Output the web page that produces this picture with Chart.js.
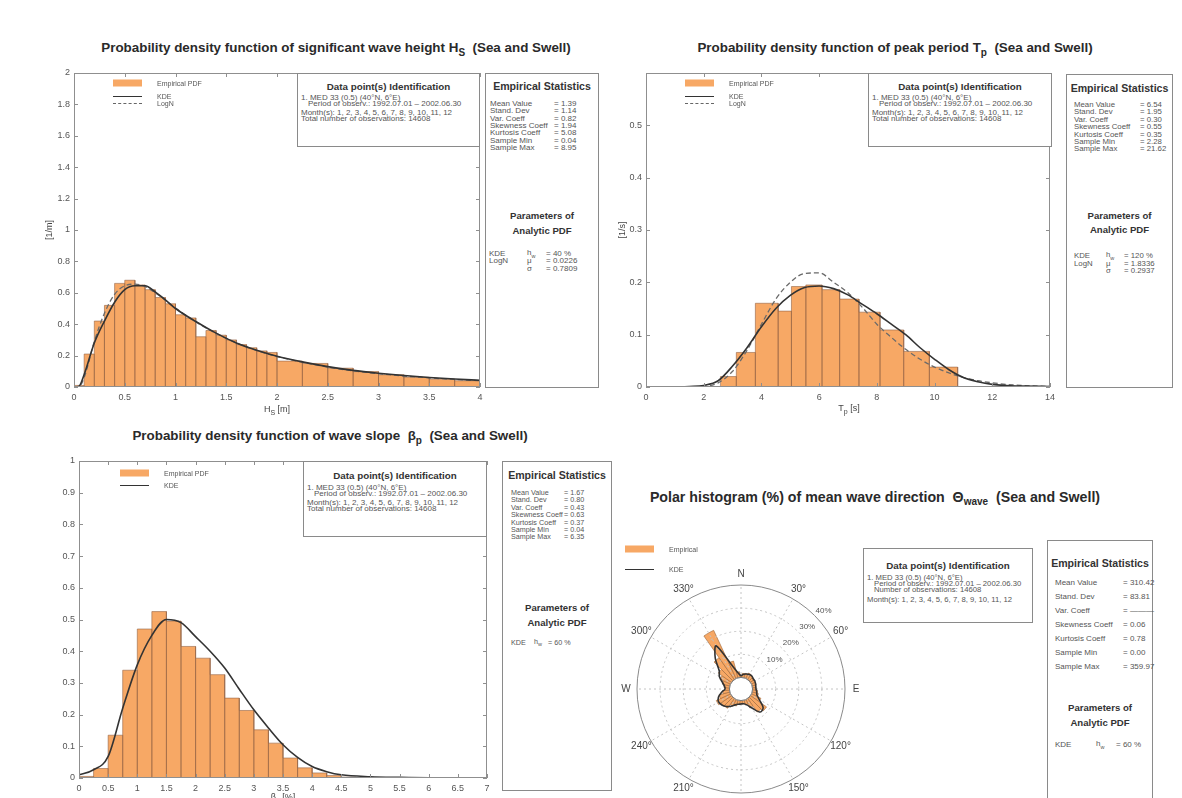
<!DOCTYPE html>
<html>
<head>
<meta charset="utf-8">
<script src="https://cdn.jsdelivr.net/npm/chart.js@4.4.1/dist/chart.umd.min.js"></script>
<style>
  body { margin: 0; width: 1182px; height: 798px; overflow: hidden; background: #fff; position: relative;
         font-family: "Liberation Sans", Arial, Helvetica, sans-serif; color: #333; }
  .cw { position: absolute; }
  .title { position: absolute; transform: translate(-50%, -50%); font-weight: bold; font-size: 13.4px; white-space: nowrap; color: #2a2a2a; }
  .title sub { font-size: 10px; }
  .xt { position: absolute; transform: translate(-50%, -50%); font-size: 9px; color: #444; white-space: nowrap; }
  .xt sub { font-size: 7px; }
  .box { position: absolute; box-sizing: border-box; border: 1px solid #8a8a8a; background: #fff; }
  .hd, .hd2, .hd3 { position: absolute; left: 0; right: 0; text-align: center; transform: translateY(-50%); font-weight: bold; color: #333; white-space: nowrap; }
  .hd { font-size: 9.8px; }
  .hd2 { font-size: 10.6px; }
  .hd3 { font-size: 9.6px; line-height: 1; }
  .ln { position: absolute; transform: translateY(-50%); line-height: 1; color: #555; white-space: nowrap; }
  .ln sub { font-size: 5.5px; }
  .lg { position: absolute; transform: translateY(-50%); font-size: 7px; line-height: 1; color: #555; white-space: nowrap; }
  .sw { position: absolute; background: #f7a865; transform: translateY(-50%); }
  .kl { position: absolute; border-top: 1.5px solid #333; width: 29px; }
  .dl { position: absolute; border-top: 1.2px dashed #666; width: 29px; }
</style>
</head>
<body>
<div class="cw" style="left:44px;top:63px;width:444px;height:355px"><canvas id="hsChart"></canvas></div>
<div class="cw" style="left:617px;top:63px;width:443px;height:355px"><canvas id="tpChart"></canvas></div>
<div class="cw" style="left:40px;top:451px;width:455px;height:358px"><canvas id="slopeChart"></canvas></div>
<div class="cw" style="left:597px;top:545px;width:288px;height:288px"><canvas id="dirHist"></canvas></div>
<div class="cw" style="left:597px;top:545px;width:288px;height:288px"><canvas id="dirKde"></canvas></div>

<div class="title" style="left:336px;top:49px">Probability density function of significant wave height H<sub>S</sub> &nbsp;(Sea and Swell)</div>
<div class="title" style="left:895px;top:49px">Probability density function of peak period T<sub>p</sub> &nbsp;(Sea and Swell)</div>
<div class="title" style="left:330px;top:437px">Probability density function of wave slope &nbsp;β<sub>p</sub> &nbsp;(Sea and Swell)</div>
<div class="title" style="left:875px;top:498px;font-size:14.2px">Polar histogram (%) of mean wave direction &nbsp;Θ<sub>wave</sub> &nbsp;(Sea and Swell)</div>

<div class="xt" style="left:277px;top:410px">H<sub>S</sub> [m]</div>
<div class="xt" style="left:849px;top:409px">T<sub>p</sub> [s]</div>
<div class="xt" style="left:283px;top:798px">β<sub>p</sub> [%]</div>

<script>
// ---- significant wave height Hs
const hsEdges = [0, 0.1, 0.2, 0.3, 0.4, 0.5, 0.6, 0.7, 0.8, 0.9, 1.0, 1.1, 1.2, 1.3, 1.4, 1.5, 1.6, 1.7, 1.8, 1.9, 2.0,
                 2.25, 2.5, 2.75, 3.0, 3.25, 3.5, 3.75, 4.0];
const hsEmpirical = [0.01, 0.21, 0.42, 0.52, 0.66, 0.68, 0.65, 0.62, 0.57, 0.53, 0.46, 0.44, 0.32, 0.36, 0.33, 0.30, 0.27, 0.25, 0.23, 0.22,
                     0.165, 0.15, 0.12, 0.098, 0.078, 0.062, 0.05, 0.04];
const hsCurveX = [0, 0.05, 0.1, 0.2, 0.3, 0.4, 0.5, 0.6, 0.7, 0.8, 0.9, 1.0, 1.2, 1.4, 1.6, 1.8, 2.0, 2.25, 2.5, 2.75, 3.0, 3.25, 3.5, 3.75, 4.0];
const hsKde  = [0, 0.005, 0.08, 0.28, 0.42, 0.54, 0.62, 0.645, 0.645, 0.605, 0.555, 0.5, 0.417, 0.343, 0.28, 0.234, 0.196, 0.16, 0.13, 0.106, 0.088, 0.073, 0.061, 0.051, 0.043];
const hsLogN = [0, 0.002, 0.06, 0.29, 0.47, 0.59, 0.645, 0.655, 0.64, 0.6, 0.553, 0.503, 0.415, 0.342, 0.282, 0.233, 0.194, 0.158, 0.127, 0.103, 0.085, 0.07, 0.058, 0.048, 0.04];

// ---- peak period Tp
const tpEdges = [2.58, 3.13, 3.79, 4.58, 5.04, 5.54, 6.10, 6.71, 7.38, 8.11, 8.93, 9.82, 10.80];
const tpEmpirical = [0.02, 0.066, 0.16, 0.145, 0.192, 0.195, 0.186, 0.168, 0.143, 0.109, 0.068, 0.038];
const tpCurveX = [0, 1, 1.5, 2, 2.5, 3, 3.5, 4, 4.5, 5, 5.5, 6, 6.5, 7, 7.5, 8, 8.5, 9, 9.5, 10, 10.5, 11, 11.5, 12, 12.5, 13, 14];
const tpKde  = [0, 0, 0.001, 0.003, 0.012, 0.04, 0.075, 0.115, 0.15, 0.175, 0.19, 0.193, 0.188, 0.176, 0.158, 0.14, 0.12, 0.1, 0.075, 0.053, 0.033, 0.018, 0.01, 0.005, 0.003, 0.002, 0.001];
const tpLogN = [0, 0, 0, 0.001, 0.008, 0.03, 0.07, 0.12, 0.168, 0.2, 0.217, 0.218, 0.2, 0.18, 0.152, 0.12, 0.095, 0.072, 0.053, 0.038, 0.027, 0.018, 0.012, 0.008, 0.005, 0.003, 0.001];

// ---- wave slope
const slopeEdges = [0, 0.25, 0.5, 0.75, 1.0, 1.25, 1.5, 1.75, 2.0, 2.25, 2.5, 2.75, 3.0, 3.25, 3.5, 3.75, 4.0, 4.25, 4.5, 4.75];
const slopeEmpirical = [0.005, 0.03, 0.135, 0.34, 0.47, 0.525, 0.495, 0.415, 0.378, 0.326, 0.252, 0.213, 0.152, 0.11, 0.063, 0.032, 0.016, 0.008, 0.003];
const slopeCurveX = [0, 0.25, 0.5, 0.75, 1, 1.25, 1.5, 1.75, 2, 2.25, 2.5, 2.75, 3, 3.25, 3.5, 3.75, 4, 4.25, 4.5, 5, 5.5, 6, 6.5, 7];
const slopeKde = [0.01, 0.026, 0.068, 0.22, 0.357, 0.45, 0.5, 0.49, 0.446, 0.4, 0.347, 0.28, 0.215, 0.158, 0.105, 0.065, 0.036, 0.02, 0.01, 0.004, 0.002, 0.001, 0.001, 0.001];

// ---- mean wave direction (10 degree bins, %)
const dirBins = [0, 10, 20, 30, 40, 50, 60, 70, 80, 90, 100, 110, 120, 130, 140, 150, 160, 170,
                 180, 190, 200, 210, 220, 230, 240, 250, 260, 270, 280, 290, 300, 310, 320, 330, 340, 350];
const dirEmpirical = [1.0, 1.8, 2.0, 2.6, 2.2, 2.0, 1.6, 1.8, 1.4, 1.5, 2.2, 2.8, 4.5, 8.5, 7.2, 4.0, 2.2, 1.5,
                      1.4, 1.8, 2.6, 3.2, 5.2, 5.5, 6.8, 4.8, 3.0, 2.0, 2.4, 3.4, 5.0, 7.0, 11.5, 23.0, 7.5, 2.5];
const dirKde = [0.8, 1.5, 1.9, 2.3, 2.3, 1.9, 1.9, 1.7, 1.5, 1.5, 1.9, 2.3, 4.1, 7.5, 8.0, 4.5, 2.3, 1.5,
                1.5, 1.7, 2.3, 3.6, 4.9, 5.8, 6.2, 5.4, 3.6, 1.9, 2.3, 3.6, 5.8, 7.3, 12.3, 16.6, 5.5, 2.0];
const dirRings = [10, 20, 30, 40];
const dirAngleLabels = ['N', '30°', '60°', 'E', '120°', '150°', 'S', '210°', '240°', 'W', '300°', '330°'];

// ---- text of the info boxes
const idLines = ['1. MED 33 (0.5)  (40°N, 6°E)', 'Period of observ.: 1992.07.01 – 2002.06.30',
                 'Month(s): 1, 2, 3, 4, 5, 6, 7, 8, 9, 10, 11, 12', 'Total number of observations: 14608'];
const idLinesDir = ['1. MED 33 (0.5)  (40°N, 6°E)', 'Period of observ.: 1992.07.01 – 2002.06.30',
                    'Number of observations: 14608', 'Month(s): 1, 2, 3, 4, 5, 6, 7, 8, 9, 10, 11, 12'];
const statLabels = ['Mean Value', 'Stand. Dev', 'Var. Coeff', 'Skewness Coeff', 'Kurtosis Coeff', 'Sample Min', 'Sample Max'];
const hsStats = ['1.39', '1.14', '0.82', '1.94', '5.08', '0.04', '8.95'];
const tpStats = ['6.54', '1.95', '0.30', '0.55', '0.35', '2.28', '21.62'];
const slopeStats = ['1.67', '0.80', '0.43', '0.63', '0.37', '0.04', '6.35'];
const dirStats = ['310.42', '83.81', '———', '0.06', '0.78', '0.00', '359.97'];
const hsParams = [['KDE', 'h<sub>w</sub>', '40 %'], ['LogN', 'μ', '0.0226'], ['', 'σ', '0.7809']];
const tpParams = [['KDE', 'h<sub>w</sub>', '120 %'], ['LogN', 'μ', '1.8336'], ['', 'σ', '0.2937']];
const slopeParams = [['KDE', 'h<sub>w</sub>', '60 %']];
const dirParams = [['KDE', 'h<sub>w</sub>', '60 %']];

const ORANGE = '#f7a865';
const BAR_EDGE = 'rgba(150, 100, 70, 0.75)';
Chart.defaults.font.family = '"Liberation Sans", Arial, Helvetica, sans-serif';

// outline of a histogram with varying bin widths, each bin closed down to zero
function histPoints(edges, vals) {
    const pts = [];
    vals.forEach((v, i) => {
        pts.push({x: edges[i], y: 0}, {x: edges[i], y: v}, {x: edges[i + 1], y: v}, {x: edges[i + 1], y: 0});
    });
    return pts;
}

function curve(xs, ys) {
    return xs.map((x, i) => ({x: x, y: ys[i]}));
}

function fmt(v) {
    return String(Math.round(v * 100) / 100);
}

// box around the plot area with small inward ticks (MATLAB look)
const framePlugin = {
    id: 'frame',
    afterDraw(chart) {
        const {ctx, chartArea: a, scales: {x, y}} = chart;
        ctx.save();
        ctx.strokeStyle = '#8f8f8f';
        ctx.lineWidth = 1;
        ctx.strokeRect(Math.round(a.left) + 0.5, Math.round(a.top) + 0.5, Math.round(a.width) - 1, Math.round(a.height) - 1);
        ctx.beginPath();
        x.ticks.forEach(t => {
            const px = Math.round(x.getPixelForValue(t.value)) + 0.5;
            ctx.moveTo(px, a.bottom); ctx.lineTo(px, a.bottom - 4);
            ctx.moveTo(px, a.top); ctx.lineTo(px, a.top + 4);
        });
        y.ticks.forEach(t => {
            const py = Math.round(y.getPixelForValue(t.value)) + 0.5;
            ctx.moveTo(a.left, py); ctx.lineTo(a.left + 4, py);
            ctx.moveTo(a.right, py); ctx.lineTo(a.right - 4, py);
        });
        ctx.stroke();
        ctx.restore();
    }
};

function pdfChart(id, o) {
    const datasets = [{
        data: histPoints(o.edges, o.emp),
        fill: 'origin', backgroundColor: ORANGE, borderColor: BAR_EDGE, borderWidth: 0.8,
        pointRadius: 0, tension: 0, order: 2
    }, {
        data: curve(o.cx, o.kde),
        borderColor: '#333', borderWidth: 1.6, pointRadius: 0, fill: false,
        cubicInterpolationMode: 'monotone', order: 0
    }];
    if (o.logn) {
        datasets.push({
            data: curve(o.cx, o.logn),
            borderColor: '#6a6a6a', borderWidth: 1.3, borderDash: [5, 3], pointRadius: 0, fill: false,
            cubicInterpolationMode: 'monotone', order: 1
        });
    }
    return new Chart(document.getElementById(id), {
        type: 'line',
        data: {datasets: datasets},
        options: {
            responsive: true,
            maintainAspectRatio: false,
            animation: false,
            events: [],
            layout: {padding: {top: 10, right: 8, left: 0, bottom: 0}},
            plugins: {legend: {display: false}, tooltip: {enabled: false}},
            scales: {
                x: {
                    type: 'linear', min: o.xmin, max: o.xmax,
                    ticks: {stepSize: o.xstep, color: '#555', font: {size: 9}, padding: 5, maxRotation: 0, autoSkip: false, callback: fmt},
                    grid: {display: false, drawTicks: false},
                    border: {display: false},
                    afterFit: s => { s.height = 31; }
                },
                y: {
                    type: 'linear', min: 0, max: o.ymax,
                    ticks: {stepSize: o.ystep, color: '#555', font: {size: 9}, padding: 4, autoSkip: false, callback: o.ycb || fmt},
                    grid: {display: false, drawTicks: false},
                    border: {display: false},
                    title: {display: !!o.ytitle, text: o.ytitle, color: '#444', font: {size: 9}, padding: {top: 0, bottom: 0}},
                    afterFit: s => { s.width = o.yw; }
                }
            }
        },
        plugins: [framePlugin]
    });
}

pdfChart('hsChart', {edges: hsEdges, emp: hsEmpirical, cx: hsCurveX, kde: hsKde, logn: hsLogN,
    xmin: 0, xmax: 4, xstep: 0.5, ymax: 2, ystep: 0.2, ytitle: '[1/m]', yw: 30});
pdfChart('tpChart', {edges: tpEdges, emp: tpEmpirical, cx: tpCurveX, kde: tpKde, logn: tpLogN,
    xmin: 0, xmax: 14, xstep: 2, ymax: 0.6, ystep: 0.1, ytitle: '[1/s]', yw: 29,
    ycb: v => (v > 0.55 ? '' : fmt(v))});
pdfChart('slopeChart', {edges: slopeEdges, emp: slopeEmpirical, cx: slopeCurveX, kde: slopeKde,
    xmin: 0, xmax: 7, xstep: 0.5, ymax: 1, ystep: 0.1, ytitle: '', yw: 39});

// ---- polar histogram: wedges (polarArea) under the KDE outline (radar)
const radialBase = {
    min: -5, max: 40,
    ticks: {display: false, stepSize: 10},
    pointLabels: {display: false}
};

new Chart(document.getElementById('dirHist'), {
    type: 'polarArea',
    data: {labels: dirBins, datasets: [{data: dirEmpirical, backgroundColor: ORANGE, borderColor: 'rgba(160, 105, 60, 0.9)', borderWidth: 0.7}]},
    options: {
        responsive: true, maintainAspectRatio: false, animation: false, events: [],
        layout: {padding: 40},
        plugins: {legend: {display: false}, tooltip: {enabled: false}},
        scales: {r: Object.assign({}, radialBase, {startAngle: -5, grid: {display: false}, angleLines: {display: false}})}
    }
});

const polarDecor = {
    id: 'polarDecor',
    afterDraw(chart) {
        const s = chart.scales.r, ctx = chart.ctx;
        const cx = s.xCenter, cy = s.yCenter;
        const r0 = s.getDistanceFromCenterForValue(0);
        ctx.save();
        ctx.fillStyle = '#fff';
        ctx.beginPath();
        ctx.arc(cx, cy, r0, 0, 2 * Math.PI);
        ctx.fill();
        ctx.strokeStyle = '#777';
        ctx.lineWidth = 1;
        ctx.stroke();
        ctx.fillStyle = '#555';
        ctx.font = '8px "Liberation Sans", Arial, sans-serif';
        ctx.textAlign = 'left';
        ctx.textBaseline = 'middle';
        const diag = Math.PI / 4;
        dirRings.forEach(v => {
            const d = s.getDistanceFromCenterForValue(v);
            ctx.fillText(v + '%', cx + d * Math.sin(diag) + 1, cy - d * Math.cos(diag) - 5);
        });
        ctx.font = '10px "Liberation Sans", Arial, sans-serif';
        ctx.fillStyle = '#444';
        ctx.textAlign = 'center';
        dirAngleLabels.forEach((t, i) => {
            const a = i * 30 * Math.PI / 180;
            const d = s.drawingArea + 11;
            ctx.fillText(t, cx + d * Math.sin(a), cy - d * Math.cos(a));
        });
        ctx.restore();
    }
};

new Chart(document.getElementById('dirKde'), {
    type: 'radar',
    data: {labels: dirBins, datasets: [{data: dirKde, borderColor: '#333', borderWidth: 1.6, fill: false, pointRadius: 0, tension: 0.3}]},
    options: {
        responsive: true, maintainAspectRatio: false, animation: false, events: [],
        layout: {padding: 40},
        plugins: {legend: {display: false}, tooltip: {enabled: false}},
        scales: {r: Object.assign({}, radialBase, {
            startAngle: 0,
            grid: {circular: true, lineWidth: 1,
                   color: c => (c.tick && (c.tick.value === 40 || c.tick.value === 0) ? '#8a8a8a' : '#c4c4c4')},
            border: {dash: c => (c.tick && (c.tick.value === 40 || c.tick.value === 0) ? [] : [2, 3])},
            angleLines: {display: true, lineWidth: 1, borderDash: [2, 3],
                         color: c => (c.index % 3 === 0 ? '#c4c4c4' : 'rgba(0,0,0,0)')}
        })}
    },
    plugins: [polarDecor]
});

// ---- info boxes and legends (HTML text)
function el(parent, cls, html, style) {
    const d = document.createElement('div');
    d.className = cls;
    d.innerHTML = html;
    Object.assign(d.style, style);
    parent.appendChild(d);
    return d;
}
function box(l, t, w, h) {
    return el(document.body, 'box', '', {left: l + 'px', top: t + 'px', width: w + 'px', height: h + 'px'});
}
function idBox(l, t, w, h, lines, ys, indents, fs) {
    const b = box(l, t, w, h);
    el(b, 'hd', 'Data point(s) Identification', {top: ys[0] + 'px'});
    lines.forEach((txt, i) => el(b, 'ln', txt, {top: ys[i + 1] + 'px', left: (indents[i] ? 10 : 3) + 'px', fontSize: fs + 'px'}));
}
function statsBox(l, t, w, h, stats, params, L) {
    const b = box(l, t, w, h);
    const fs = L.fs + 'px';
    el(b, 'hd2', 'Empirical Statistics', {top: L.head + 'px'});
    statLabels.forEach((lab, i) => {
        el(b, 'ln', lab, {top: (L.row0 + i * L.gap) + 'px', left: L.lx + 'px', fontSize: fs});
        el(b, 'ln', '= ' + stats[i], {top: (L.row0 + i * L.gap) + 'px', left: L.eq + 'px', fontSize: fs});
    });
    el(b, 'hd3', 'Parameters of', {top: L.p1 + 'px'});
    el(b, 'hd3', 'Analytic PDF', {top: L.p2 + 'px'});
    params.forEach((p, i) => {
        const y = (L.pr0 + i * L.pgap) + 'px';
        el(b, 'ln', p[0], {top: y, left: L.pc[0] + 'px', fontSize: fs});
        el(b, 'ln', p[1], {top: y, left: L.pc[1] + 'px', fontSize: fs});
        el(b, 'ln', '= ' + p[2], {top: y, left: L.pc[2] + 'px', fontSize: fs});
    });
}
function legendItem(kind, x, y, text) {
    if (kind === 'swatch') el(document.body, 'sw', '', {left: x + 'px', top: y + 'px', width: '29px', height: '7px'});
    else el(document.body, kind === 'kde' ? 'kl' : 'dl', '', {left: x + 'px', top: y + 'px'});
    el(document.body, 'lg', text, {left: (x + 44) + 'px', top: y + 'px'});
}

const idYs = [12, 24, 30, 39, 44.5];
idBox(297, 73, 183, 74, idLines, idYs, [0, 1, 0, 0], 8);
idBox(868, 73, 184, 74, idLines, idYs, [0, 1, 0, 0], 8);
idBox(303, 461, 184, 76, idLines, [13, 26, 32, 41, 47], [0, 1, 0, 0], 8);
idBox(863, 548, 170, 75, idLinesDir, [16, 28.5, 34.5, 40.5, 51], [0, 1, 1, 0], 7.7);

statsBox(485, 73, 114, 315, hsStats, hsParams,
    {fs: 8, head: 12, row0: 30, gap: 7.3, lx: 4, eq: 68, p1: 142, p2: 157, pr0: 180, pgap: 7.3, pc: [3, 41, 60]});
statsBox(1066, 74, 107, 314, tpStats, tpParams,
    {fs: 7.8, head: 13, row0: 30, gap: 7.4, lx: 7, eq: 73, p1: 141, p2: 155, pr0: 181, pgap: 7.7, pc: [7, 39, 57]});
statsBox(502, 461, 110, 330, slopeStats, slopeParams,
    {fs: 7.2, head: 13, row0: 31, gap: 7.4, lx: 8, eq: 61, p1: 146, p2: 161, pr0: 181, pgap: 7.4, pc: [8, 31, 45]});
statsBox(1047, 540, 106, 270, dirStats, dirParams,
    {fs: 8, head: 22, row0: 42, gap: 14, lx: 7, eq: 75, p1: 167, p2: 182, pr0: 204, pgap: 14, pc: [7, 48, 68]});

legendItem('swatch', 113, 83, 'Empirical PDF');
legendItem('kde', 113, 96, 'KDE');
legendItem('dash', 113, 103, 'LogN');
legendItem('swatch', 685, 83, 'Empirical PDF');
legendItem('kde', 685, 95.5, 'KDE');
legendItem('dash', 685, 103, 'LogN');
legendItem('swatch', 120, 473, 'Empirical PDF');
legendItem('kde', 120, 485, 'KDE');
legendItem('swatch', 625, 548.5, 'Empirical');
legendItem('kde', 625, 569, 'KDE');
</script>
</body>
</html>
